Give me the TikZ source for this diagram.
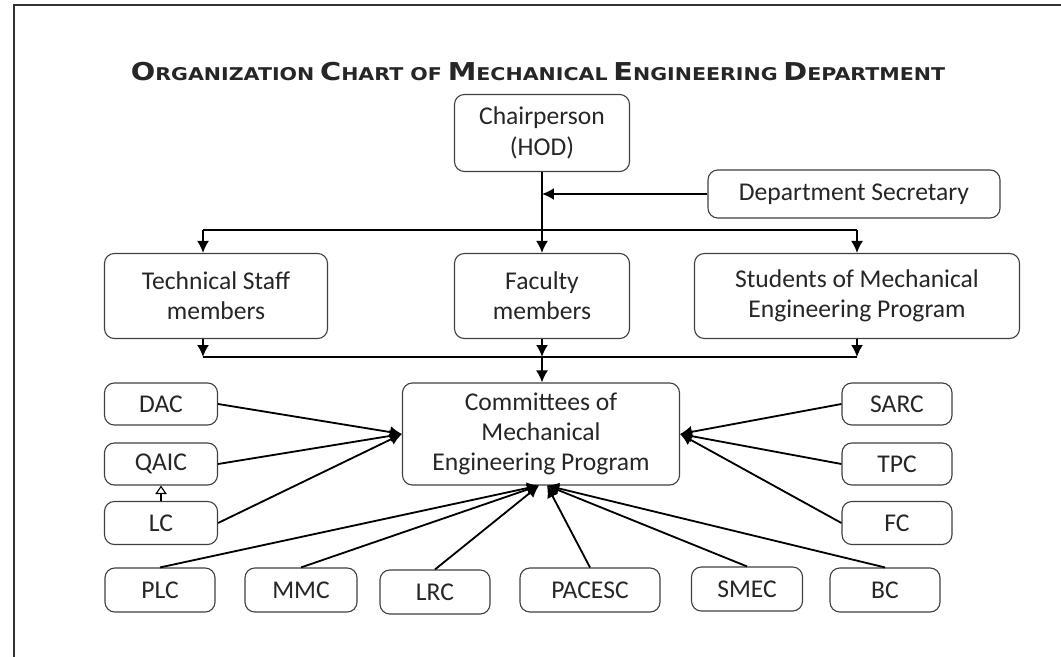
\documentclass[tikz,border=0pt]{standalone}
\usepackage{fontspec}
\setmainfont{Carlito}
\newfontfamily\titlefont{DejaVu Sans}
\usetikzlibrary{arrows.meta}

% big first letter, rest as small capitals
\newcommand{\titleword}[2]{{\fontsize{17.5}{20}\selectfont #1}{\fontsize{12.5}{20}\selectfont #2}}

\tikzset{
  box/.style={draw=black!75, line width=0.8pt, rounded corners=7pt, fill=white,
    align=center, inner sep=2pt, text=black!85, font=\fontsize{18.2}{21.5}\selectfont},
  wh/.style 2 args={minimum width=#1*0.025cm, minimum height=#2*0.025cm},
  link/.style={line width=1.3pt, -{Latex[length=8.5pt,width=8.5pt]}},
  plain/.style={line width=1.3pt},
}

\begin{document}
\begin{tikzpicture}[x=0.025cm, y=-0.025cm]

        % Canvas and frame
        \useasboundingbox (0,0) rectangle (1061,657);
        \fill[white] (0,0) rectangle (1061,657);
        \coordinate (frameTop) at (14,5);
        \draw[line width=1.2pt, black!80] (1061,5) -- (frameTop) -- (14,657);

        % Title
        \node[font=\titlefont\bfseries, text=black!85, transform shape, xscale=1.17] (title) at (538,72)
          {\titleword{O}{RGANIZATION} \titleword{C}{HART OF} \titleword{M}{ECHANICAL} \titleword{E}{NGINEERING} \titleword{D}{EPARTMENT}};

        % Top levels
        \node[box, wh={175}{77}] (chair) at (542,133) {Chairperson\\(HOD)};
        \node[box, wh={292}{48}] (secy) at (854,194) {Department Secretary};
        \node[box, wh={223}{85}] (tech) at (216,296) {Technical Staff\\members};
        \node[box, wh={175}{85}] (fac) at (542,296) {Faculty\\members};
        \node[box, wh={325}{85}] (stud) at (857,296) {Students of Mechanical\\Engineering Program};
        \node[box, wh={277}{102}] (comm) at (541,434) {Committees of\\Mechanical\\Engineering Program};

        % Side committees
        \node[box, wh={113}{42}] (dac) at (161,404) {DAC};
        \node[box, wh={113}{42}] (qaic) at (161,464) {QAIC};
        \node[box, wh={113}{43}] (lc) at (161,523) {LC};
        \node[box, wh={110}{42}] (sarc) at (897,404) {SARC};
        \node[box, wh={110}{42}] (tpc) at (897,464) {TPC};
        \node[box, wh={110}{43}] (fc) at (897,523) {FC};

        % Bottom committees
        \node[box, wh={110}{44}] (plc) at (160,590) {PLC};
        \node[box, wh={112}{44}] (mmc) at (301,590) {MMC};
        \node[box, wh={110}{44}] (lrc) at (435,592) {LRC};
        \node[box, wh={140}{44}] (pacesc) at (590,590) {PACESC};
        \node[box, wh={111}{44}] (smec) at (747,589) {SMEC};
        \node[box, wh={110}{44}] (bc) at (885,590) {BC};

        % Chairperson down to the three groups
        \draw[link] (chair.south) -- (fac.north);
        \draw[link] (secy.west) -- (secy.west -| chair.south);
        \coordinate (splitL) at (203,230);
        \coordinate (splitR) at (857,230);
        \draw[plain] (splitL) -- (splitR);
        \draw[link] (splitL) -- (splitL |- tech.north);
        \draw[link] (splitR) -- (stud.north);

        % Groups down to the committees
        \coordinate (joinL) at (203,357);
        \coordinate (joinR) at (857,357);
        \coordinate (joinM) at (joinL -| fac.south);
        \draw[plain] (joinL) -- (joinR);
        \draw[link] (joinL |- tech.south) -- (joinL);
        \draw[link] (stud.south) -- (joinR);
        \draw[link] (fac.south) -- (joinM);
        \draw[link] (joinM) -- (joinM |- comm.north);

        % Side committees into the centre
        \foreach \c in {dac, qaic, lc}
          \draw[link] (\c.east) -- (comm.west);
        \foreach \c in {sarc, tpc, fc}
          \draw[link] (\c.west) -- (comm.east);
        \draw[line width=0.8pt, -{Triangle[open,length=6pt,width=8pt]}] (lc.north) -- (qaic.south);

        % Bottom committees into the centre
        \coordinate (inL) at ([xshift=-0.05cm]comm.south);
        \coordinate (inR) at ([xshift=0.15cm]comm.south);
        \foreach \c in {plc, mmc, lrc}
          \draw[link] (\c.north) -- (inL);
        \foreach \c in {pacesc, smec, bc}
          \draw[link] (\c.north) -- (inR);

    \end{tikzpicture}
\end{document}
